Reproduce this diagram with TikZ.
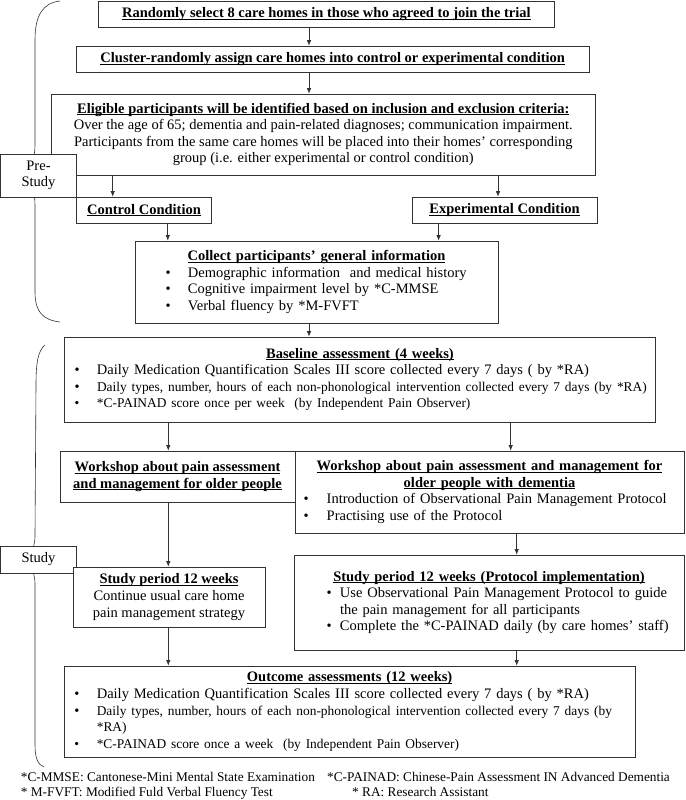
\documentclass[tikz,border=0pt]{standalone}
\usepackage{fontspec}
\setmainfont{Liberation Serif}
\usetikzlibrary{arrows.meta}

\newsavebox{\hdbox}
\newcommand{\hd}[1]{\textbf{\sbox{\hdbox}{#1}\rlap{\rule[-1.8pt]{\wd\hdbox}{0.7pt}}\usebox{\hdbox}}}
\newcommand{\bul}[3]{\par\noindent\hangindent=\dimexpr#1+#2\relax\hangafter=1\hspace*{#1}\makebox[#2][l]{\textbullet}#3\par}
\newcommand{\smtxt}{\fontsize{13.4}{16.6}\selectfont}

\begin{document}
\begin{tikzpicture}[x=1pt, y=-1pt,
  box/.style={draw=black!80, line width=0.7pt, fill=white, inner xsep=4pt, inner ysep=0pt,
    font=\fontsize{14.5}{16.6}\selectfont},
  side/.style={box, align=center},
  arr/.style={-{Latex[length=5.5pt,width=4.5pt]}, line width=0.7pt, draw=black!80},
  brc/.style={line width=0.6pt, draw=black!80},
  note/.style={inner sep=0pt, anchor=base west, font=\fontsize{13.3}{16}\selectfont}]
\useasboundingbox (0,0) rectangle (685,800);

% braces
\draw[brc] (60,1) .. controls (43,3) and (35,15) .. (35,40) -- (35,145)
  .. controls (35,160) and (30,170) .. (20,176) .. controls (30,182) and (35,190) .. (35,205)
  -- (35,292) .. controls (35,312) and (43,320) .. (60,322);
\draw[brc] (45,345) .. controls (38,351) and (36,362) .. (36,385) -- (35,535)
  .. controls (35,550) and (30,555) .. (20,560) .. controls (30,565) and (35,570) .. (35,585)
  -- (35,745) .. controls (35,758) and (38,765) .. (44,767);

% pre-study
\node[box, minimum width=455.3pt, minimum height=26pt] (sel) at (326.35,14)
  {\hd{Randomly select 8 care homes in those who agreed to join the trial}};
\node[box, minimum width=512.5pt, minimum height=26pt] (clus) at (332.75,59)
  {\hd{Cluster-randomly assign care homes into control or experimental condition}};
\node[box, align=center, minimum width=543.5pt, minimum height=81pt] (elig) at (323.25,134.5)
  {\hd{Eligible participants will be identified based on inclusion and exclusion criteria:}\\
   Over the age of 65; dementia and pain-related diagnoses; communication impairment.\\
   Participants from the same care homes will be placed into their homes' corresponding\\
   group (i.e. either experimental or control condition)};
\node[side, minimum width=76pt, minimum height=43pt] (pre) at (38.5,175.5) {Pre-\\Study};
\node[box, minimum width=135pt, minimum height=26pt] (ctrl) at (144,210) {\hd{Control Condition}};
\node[box, minimum width=185pt, minimum height=26pt] (expc) at (504.5,210) {\hd{Experimental Condition}};
\node[box, text width=355pt, minimum height=82pt, align=left] (coll) at (316.5,282)
  {{\centering\hd{Collect participants' general information}\par}
   \bul{26.5pt}{22.5pt}{Demographic information\ \ and medical history}
   \bul{26.5pt}{22.5pt}{Cognitive impairment level by *C-MMSE}
   \bul{26.5pt}{22.5pt}{Verbal fluency by *M-FVFT}};

% study
\node[box, text width=583pt, minimum height=85pt, align=left] (base) at (360,379.5)
  {{\centering\hd{Baseline assessment (4 weeks)}\par}
   \bul{6pt}{22.5pt}{Daily Medication Quantification Scales III score collected every 7 days ( by *RA)}
   \bul{6pt}{22.5pt}{\smtxt Daily types, number, hours of each non-phonological intervention collected every 7 days (by *RA)}
   \bul{6pt}{22.5pt}{*C-PAINAD score once per week\ \ (by Independent Pain Observer)}
   \vspace*{6pt}};
\node[box, align=center, minimum width=235pt, minimum height=51pt] (wsl) at (177.5,476.5)
  {\hd{Workshop about pain assessment}\\\hd{and management for older people}};
\node[box, text width=381pt, minimum height=82pt, align=left] (wsr) at (489.5,492)
  {{\centering\hd{Workshop about pain assessment and management for}\\\hd{older people with dementia}\par}
   \bul{4.5pt}{23.2pt}{Introduction of Observational Pain Management Protocol}
   \bul{4.5pt}{23.2pt}{Practising use of the Protocol}};
\node[side, minimum width=76pt, minimum height=27pt] (study) at (38.5,559.5) {Study};
\node[box, align=center, minimum width=192pt, minimum height=60pt] (spl) at (169,597)
  {\hd{Study period 12 weeks}\\Continue usual care home\\pain management strategy};
\node[box, text width=382pt, minimum height=95pt, align=left] (spr) at (489,602.5)
  {{\centering\hd{Study period 12 weeks (Protocol implementation)}\par}
   \bul{28.5pt}{13.5pt}{Use Observational Pain Management Protocol to guide\newline the pain management for all participants}
   \bul{28.5pt}{13.5pt}{Complete the *C-PAINAD daily (by care homes' staff)}
   \vspace*{16pt}};
\node[box, text width=562.7pt, minimum height=91pt, align=left] (out) at (349.65,711.5)
  {{\centering\hd{Outcome assessments (12 weeks)}\par}
   \bul{6pt}{22.5pt}{Daily Medication Quantification Scales III score collected every 7 days ( by *RA)}
   \bul{6pt}{22.5pt}{\smtxt Daily types, number, hours of each non-phonological intervention collected every 7 days (by\newline *RA)}
   \bul{6pt}{22.5pt}{*C-PAINAD score once a week\ \ (by Independent Pain Observer)}};

\foreach \a/\b/\x in {sel/clus/309, clus/elig/309, elig/ctrl/112.7, elig/expc/498,
  ctrl/coll/167.8, expc/coll/438.6, coll/base/309, base/wsl/168.3, base/wsr/510.7,
  wsl/spl/168.3, wsr/spr/516.7, spl/out/168.3, spr/out/516.7}{
  \draw[arr] (\a.south -| \x,0) -- (\b.north -| \x,0);
}

% footnotes
\node[note] (fn1) at (20.7,781) {*C-MMSE: Cantonese-Mini Mental State Examination};
\node[note] (fn2) at (327,781) {*C-PAINAD: Chinese-Pain Assessment IN Advanced Dementia};
\node[note] (fn3) at (20.7,796) {* M-FVFT: Modified Fuld Verbal Fluency Test};
\node[note] (fn4) at (352,796) {* RA: Research Assistant};

\end{tikzpicture}
\end{document}
